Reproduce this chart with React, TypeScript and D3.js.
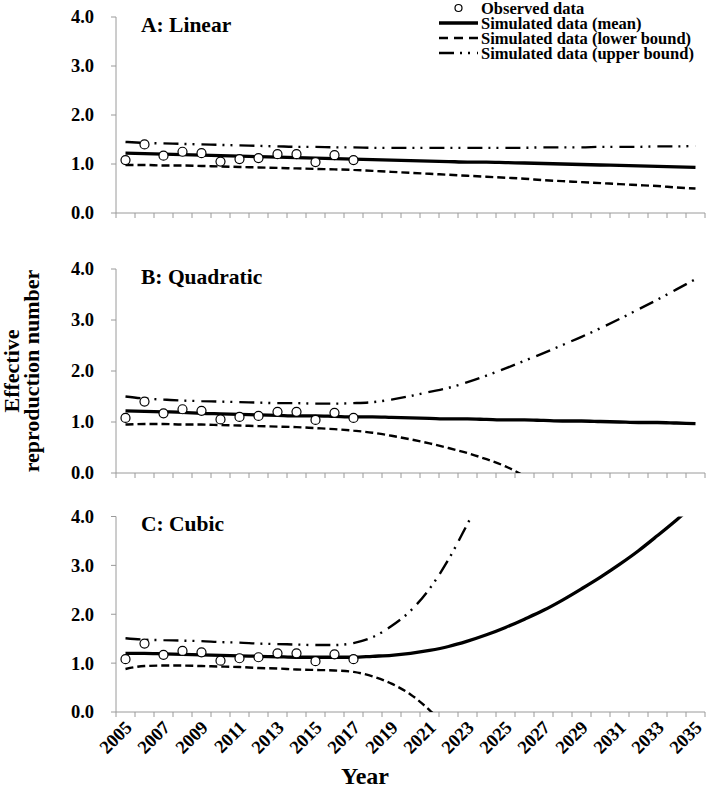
import React from "react";
import * as d3 from "d3";

const years = [2005,2006,2007,2008,2009,2010,2011,2012,2013,2014,2015,2016,2017,2018,2019,2020,2021,2022,2023,2024,2025,2026,2027,2028,2029,2030,2031,2032,2033,2034,2035];
const yTicks = [0, 1, 2, 3, 4];
const xLabelYears = [2005,2007,2009,2011,2013,2015,2017,2019,2021,2023,2025,2027,2029,2031,2033,2035];

const observed = [1.08,1.40,1.17,1.25,1.22,1.05,1.10,1.12,1.20,1.20,1.04,1.18,1.08];

const meanA = [1.22,1.21,1.20,1.19,1.18,1.17,1.16,1.15,1.14,1.13,1.12,1.11,1.10,1.09,1.08,1.07,1.06,1.05,1.04,1.04,1.03,1.02,1.01,1.00,0.99,0.98,0.97,0.96,0.95,0.94,0.93];
const lowerA = [0.98,0.98,0.97,0.97,0.96,0.95,0.94,0.93,0.92,0.91,0.90,0.89,0.88,0.86,0.84,0.82,0.80,0.78,0.76,0.74,0.72,0.70,0.67,0.65,0.63,0.61,0.59,0.57,0.55,0.52,0.50];
const upperA = [1.45,1.43,1.42,1.41,1.40,1.39,1.38,1.37,1.36,1.35,1.35,1.34,1.34,1.33,1.33,1.33,1.33,1.33,1.33,1.33,1.33,1.33,1.34,1.34,1.34,1.35,1.35,1.35,1.36,1.36,1.37];

const meanB = [1.22,1.21,1.20,1.19,1.17,1.16,1.15,1.14,1.13,1.12,1.12,1.11,1.10,1.10,1.09,1.08,1.07,1.06,1.06,1.05,1.04,1.04,1.03,1.02,1.02,1.01,1.00,0.99,0.99,0.98,0.97];
const lowerB = [0.95,0.96,0.96,0.95,0.95,0.94,0.93,0.92,0.91,0.90,0.88,0.86,0.83,0.79,0.73,0.66,0.58,0.49,0.39,0.27,0.13,-0.06];
const upperB = [1.50,1.46,1.44,1.42,1.41,1.40,1.39,1.38,1.37,1.37,1.36,1.36,1.37,1.39,1.44,1.51,1.59,1.67,1.78,1.91,2.05,2.20,2.35,2.51,2.67,2.84,3.02,3.21,3.40,3.60,3.80];

const meanC = [1.20,1.20,1.19,1.18,1.17,1.16,1.15,1.14,1.13,1.12,1.12,1.12,1.12,1.14,1.16,1.20,1.26,1.34,1.45,1.58,1.73,1.90,2.08,2.29,2.52,2.76,3.02,3.30,3.61,3.93,4.27];
const lowerC = [0.88,0.94,0.95,0.95,0.94,0.93,0.92,0.90,0.89,0.87,0.86,0.85,0.82,0.73,0.58,0.36,0.04,-0.35];
const upperC = [1.51,1.48,1.47,1.46,1.45,1.43,1.42,1.40,1.39,1.38,1.37,1.37,1.41,1.53,1.76,2.07,2.52,3.12,3.85,4.60];

const panels = [
  { id: "A", title: "A: Linear", top: 17, bottom: 213, mean: meanA, lower: lowerA, upper: upperA },
  { id: "B", title: "B: Quadratic", top: 269, bottom: 473, mean: meanB, lower: lowerB, upper: upperB },
  { id: "C", title: "C: Cubic", top: 516.5, bottom: 712, mean: meanC, lower: lowerC, upper: upperC },
];

const W = 709, H = 791;
const X0 = 116, X1 = 705;
const FONT = "'Liberation Serif', 'Times New Roman', serif";
const AXIS = "#9a9a9a";
const LOWER_DASH = "8 4";
const UPPER_DASH = "15 6 2 6 2 7";

const x = d3.scaleBand<number>().domain(years).range([X0, X1]).padding(0);
const cx = (yr: number) => (x(yr) as number) + x.bandwidth() / 2;

function Panel({ p, showLabels }: { p: typeof panels[0]; showLabels: boolean }) {
  const y = d3.scaleLinear().domain([0, 4]).range([p.bottom, p.top]);
  const line = d3.line<number>()
    .x((_, i) => cx(years[i]))
    .y((v) => y(v))
    .curve(d3.curveMonotoneX);
  const clipId = `clip-${p.id}`;
  const boundaries = d3.range(years.length + 1).map((i) => X0 + i * x.bandwidth());
  return (
    <g>
      <defs>
        <clipPath id={clipId}>
          <rect x={X0} y={p.top} width={X1 - X0} height={p.bottom - p.top} />
        </clipPath>
      </defs>
      <line x1={X0} x2={X0} y1={p.top} y2={p.bottom} stroke={AXIS} strokeWidth={1} />
      {yTicks.map((t) => (
        <g key={t}>
          <line x1={X0 - 5} x2={X0} y1={y(t)} y2={y(t)} stroke={AXIS} strokeWidth={1} />
          <text x={94} y={y(t)} dy="0.35em" textAnchor="end" fontFamily={FONT} fontWeight="bold" fontSize={18.5}>
            {t.toFixed(1)}
          </text>
        </g>
      ))}
      <line x1={X0} x2={X1} y1={p.bottom} y2={p.bottom} stroke={AXIS} strokeWidth={1} />
      {boundaries.map((bx, i) => (
        <line key={i} x1={bx} x2={bx} y1={p.bottom} y2={p.bottom + 5} stroke={AXIS} strokeWidth={1} />
      ))}
      {showLabels && xLabelYears.map((yr) => (
        <text key={yr} transform={`translate(${cx(yr) + 3},${p.bottom + 12}) rotate(-45)`}
          textAnchor="end" dy="0.35em" fontFamily={FONT} fontWeight="bold" fontSize={18.5}>
          {yr}
        </text>
      ))}
      <text x={141} y={p.top + 7} dy="0.35em" fontFamily={FONT} fontWeight="bold" fontSize={21.5}>{p.title}</text>
      <g clipPath={`url(#${clipId})`}>
        <path d={line(p.upper) || ""} fill="none" stroke="#000" strokeWidth={2.4} strokeDasharray={UPPER_DASH} />
        <path d={line(p.lower) || ""} fill="none" stroke="#000" strokeWidth={2.4} strokeDasharray={LOWER_DASH} />
        <path d={line(p.mean) || ""} fill="none" stroke="#000" strokeWidth={3.3} />
      </g>
      {observed.map((v, i) => (
        <circle key={i} cx={cx(years[i])} cy={y(v)} r={4.5} fill="#fff" stroke="#000" strokeWidth={1.2} />
      ))}
    </g>
  );
}

const legendItems = ["Observed data", "Simulated data (mean)", "Simulated data (lower bound)", "Simulated data (upper bound)"];

export default function App() {
  const lx0 = 439, lx1 = 478, ltx = 481;
  const rowY = (i: number) => 8 + i * 15;
  return (
    <svg width={W} height={H} style={{ position: "absolute", left: 0, top: 0, background: "#fff" }}>
      <rect x={0} y={0} width={W} height={H} fill="#fff" />
      {panels.map((p, i) => (
        <Panel key={p.id} p={p} showLabels={i === 2} />
      ))}
      <g>
        <circle cx={(lx0 + lx1) / 2} cy={rowY(0)} r={3.5} fill="#fff" stroke="#000" strokeWidth={1.2} />
        <line x1={lx0} x2={lx1} y1={rowY(1)} y2={rowY(1)} stroke="#000" strokeWidth={3.3} />
        <line x1={lx0} x2={lx1} y1={rowY(2)} y2={rowY(2)} stroke="#000" strokeWidth={2.4} strokeDasharray="9 6" />
        <line x1={lx0} x2={lx1} y1={rowY(3)} y2={rowY(3)} stroke="#000" strokeWidth={2.4} strokeDasharray={UPPER_DASH} />
        {legendItems.map((t, i) => (
          <text key={t} x={ltx} y={rowY(i)} dy="0.35em" fontFamily={FONT} fontWeight="bold" fontSize={16.5}>{t}</text>
        ))}
      </g>
      <text transform={`translate(0,371) rotate(-90)`} textAnchor="middle" fontFamily={FONT} fontWeight="bold" fontSize={22}>
        <tspan x={0} y={18.5}>Effective</tspan>
        <tspan x={0} y={38.5}>reproduction number</tspan>
      </text>
      <text x={365} y={776} dy="0.35em" textAnchor="middle" fontFamily={FONT} fontWeight="bold" fontSize={24}>Year</text>
    </svg>
  );
}
